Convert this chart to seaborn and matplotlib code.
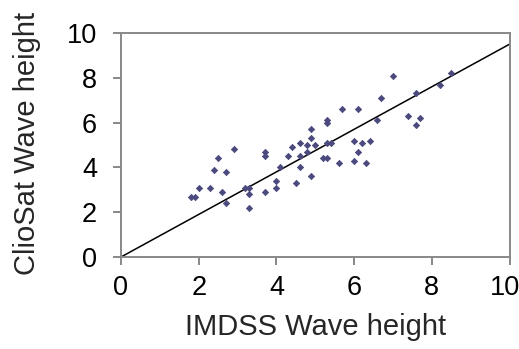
import matplotlib
matplotlib.use("Agg")
import matplotlib.pyplot as plt
import matplotlib.transforms as mtransforms
import seaborn as sns
import pandas as pd

imdss = [1.8, 1.9, 2.0, 2.3, 2.4, 2.5, 2.6, 2.7, 2.7, 2.9,
         3.2, 3.3, 3.3, 3.3, 3.7, 3.7, 3.7, 4.0, 4.0, 4.1,
         4.3, 4.4, 4.5, 4.6, 4.6, 4.6, 4.8, 4.8, 4.9, 4.9,
         4.9, 5.0, 5.2, 5.3, 5.3, 5.3, 5.3, 5.4, 5.6, 5.7,
         6.0, 6.0, 6.1, 6.1, 6.2, 6.3, 6.4, 6.6, 6.7, 7.0,
         7.4, 7.6, 7.6, 7.7, 8.2, 8.5]
cliosat = [2.7, 2.7, 3.1, 3.1, 3.9, 4.4, 2.9, 3.8, 2.4, 4.8,
           3.1, 3.1, 2.8, 2.2, 4.7, 4.5, 2.9, 3.4, 3.1, 4.0,
           4.5, 4.9, 3.3, 5.1, 4.5, 4.0, 5.0, 4.7, 5.7, 5.3,
           3.6, 5.0, 4.4, 6.1, 6.0, 5.1, 4.4, 5.1, 4.2, 6.6,
           5.2, 4.3, 6.6, 4.7, 5.1, 4.2, 5.2, 6.1, 7.1, 8.1,
           6.3, 7.3, 5.9, 6.2, 7.7, 8.2]
fit_x = [0, 10]
fit_y = [0, 9.5]
ticks = [0, 2, 4, 6, 8, 10]

sns.set_style("white")
plt.rcParams['font.family'] = ['Liberation Sans', 'DejaVu Sans']

fig = plt.figure(figsize=(5.19, 3.49), dpi=100)
ax = fig.add_axes([121/519, 1 - 257/349, (509.5 - 121)/519, (257 - 33)/349])

df = pd.DataFrame({"x": imdss, "y": cliosat})
sns.lineplot(x=fit_x, y=fit_y, ax=ax, color="black", linewidth=1.1, zorder=2)
sns.scatterplot(data=df, x="x", y="y", ax=ax, marker="D", s=10,
                color="#4b4a7e", edgecolor="#4b4a7e", linewidth=0.6, zorder=3)

ax.set_xlim(0, 10)
ax.set_ylim(0, 10)
ax.set_xticks(ticks)
ax.set_yticks(ticks)
ax.set_xticklabels([str(t) for t in ticks])
ax.set_yticklabels([str(t) for t in ticks])
for s in ax.spines.values():
    s.set_visible(True)
    s.set_color("#888888")
    s.set_linewidth(1.4)
ax.tick_params(axis="both", which="major", direction="out", length=5.8, width=1.4,
               color="#888888", labelsize=19.5, labelcolor="black",
               bottom=True, left=True)
ax.tick_params(axis="x", pad=7)
ax.tick_params(axis="y", pad=11.5)
ax.set_xlabel("IMDSS Wave height", fontsize=21, labelpad=9)
ax.set_ylabel("ClioSat Wave height", fontsize=21)
ax.yaxis.set_label_coords(-0.205, 0.507)
ax.grid(False)

# keep the last x tick label inside the figure, as in the reference
last = ax.get_xticklabels()[-1]
last.set_transform(last.get_transform() +
                   mtransforms.ScaledTranslation(-5/100, 0, fig.dpi_scale_trans))

fig.savefig("out.png", dpi=100)
